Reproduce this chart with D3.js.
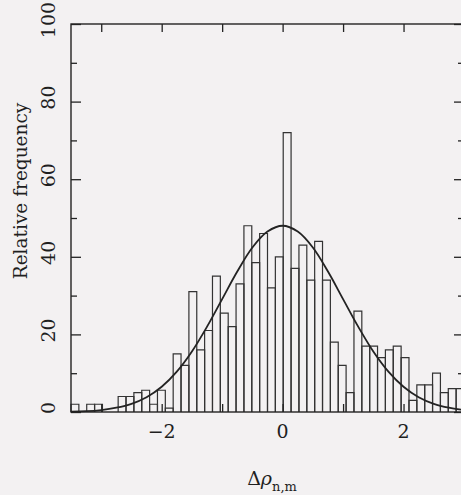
<!DOCTYPE html>
<html>
<head>
<meta charset="utf-8">
<script src="https://cdn.jsdelivr.net/npm/d3@7"></script>
<style>
  html, body { margin: 0; padding: 0; background: #f3f1f2; }
  svg { display: block; }
  text { font-family: "DejaVu Serif", "Liberation Serif", serif; fill: #1f1f1f; }
</style>
</head>
<body>
<svg id="chart" width="461" height="495"></svg>
<script>
// ---- data ----
const binStart = -3.5;     // left edge of first bin
const binWidth = 0.13;     // bin width (50 bins)
const freq = [2, 0, 2, 2, 0, 0, 4, 4, 5, 5.6,
              2, 5.6, 1, 15, 12, 31, 16, 21, 35, 25.5,
              22, 33, 48, 38.5, 46, 32, 40, 72, 37, 43,
              34, 44, 34, 18, 12, 5, 26, 17, 17, 14,
              16, 17, 14, 3, 7, 7, 10, 5, 6, 6];
const curveX = [-3.5, -3.25, -3, -2.75, -2.5, -2.25, -2, -1.75, -1.5, -1.25, -1, -0.75, -0.5, -0.25, 0,
                0.25, 0.5, 0.75, 1, 1.25, 1.5, 1.75, 2, 2.25, 2.5, 2.75, 3];
const curveY = [0.1, 0.2, 0.5, 1.1, 2.1, 3.8, 6.5, 10.4, 15.6, 22.0, 29.1, 36.2, 42.4, 46.5, 48,
                46.5, 42.4, 36.2, 29.1, 22.0, 15.6, 10.4, 6.5, 3.8, 2.1, 1.1, 0.5];
const yMajor = [0, 20, 40, 60, 80, 100];
const yMinor = [10, 30, 50, 70, 90];
const xTickVals = [-3, -2, -1, 0, 1, 2, 3];
const xLabels = [-2, 0, 2];

// ---- layout ----
const svg = d3.select("#chart");
const L = 71, R = 464, T = 24, B = 412;
const x = d3.scaleLinear().domain([-3.5, 3]).range([L, R]);
const y = d3.scaleLinear().domain([0, 100]).range([B, T]);
const ink = "#232323";

const g = svg.append("g");

// histogram (outlined bars)
const bins = freq.map((v, i) => ({x0: binStart + i * binWidth, x1: binStart + (i + 1) * binWidth, v}));
g.append("g").selectAll("path").data(bins.filter(d => d.v > 0)).join("path")
  .attr("d", d => `M${x(d.x0)},${y(0)}V${y(d.v)}H${x(d.x1)}V${y(0)}`)
  .attr("fill", "none").attr("stroke", "#333").attr("stroke-width", 1.2);

// gaussian curve
const line = d3.line().x((d, i) => x(curveX[i])).y(d => y(d)).curve(d3.curveCatmullRom);
g.append("path").datum(curveY).attr("d", line)
  .attr("fill", "none").attr("stroke", ink).attr("stroke-width", 1.8);

// frame
g.append("rect").attr("x", L).attr("y", T).attr("width", R - L).attr("height", B - T)
  .attr("fill", "none").attr("stroke", ink).attr("stroke-width", 1.4);

// axes with inward ticks
const axL = d3.axisRight(y).tickValues(yMajor).tickSize(10).tickFormat("");
const axLm = d3.axisRight(y).tickValues(yMinor).tickSize(6).tickFormat("");
const axR = d3.axisLeft(y).tickValues(yMajor).tickSize(10).tickFormat("");
const axRm = d3.axisLeft(y).tickValues(yMinor).tickSize(6).tickFormat("");
const axT = d3.axisBottom(x).tickValues(xTickVals).tickSize(8).tickFormat("");
const axB = d3.axisTop(x).tickValues(xTickVals).tickSize(8).tickFormat("");
function styleAxis(sel) {
  sel.select(".domain").remove();
  sel.selectAll("line").attr("stroke", ink).attr("stroke-width", 1.3);
}
g.append("g").attr("transform", `translate(${L},0)`).call(axL).call(styleAxis);
g.append("g").attr("transform", `translate(${L},0)`).call(axLm).call(styleAxis);
g.append("g").attr("transform", `translate(${R},0)`).call(axR).call(styleAxis);
g.append("g").attr("transform", `translate(${R},0)`).call(axRm).call(styleAxis);
g.append("g").attr("transform", `translate(0,${T})`).call(axT).call(styleAxis);
g.append("g").attr("transform", `translate(0,${B})`).call(axB).call(styleAxis);

// y tick labels (rotated)
g.append("g").selectAll("text").data(yMajor).join("text")
  .attr("transform", d => `translate(55,${y(d) - 4}) rotate(-90)`)
  .attr("text-anchor", "middle").attr("font-size", 19)
  .text(d => d);

// x tick labels
g.append("g").selectAll("text").data(xLabels).join("text")
  .attr("x", d => x(d)).attr("y", 438)
  .attr("text-anchor", "middle").attr("font-size", 19)
  .text(d => d < 0 ? "\u2212" + Math.abs(d) : d);

// axis titles
svg.append("text")
  .attr("transform", "translate(27,191) rotate(-90)")
  .attr("text-anchor", "middle").attr("font-size", 18.5)
  .text("Relative frequency");

const xt = svg.append("text").attr("x", 272).attr("y", 485).attr("text-anchor", "middle").attr("font-size", 19);
xt.append("tspan").text("\u0394");
xt.append("tspan").attr("font-style", "italic").text("\u03C1");
xt.append("tspan").attr("dy", 6).attr("font-size", 13).text("n,m");
</script>
</body>
</html>
